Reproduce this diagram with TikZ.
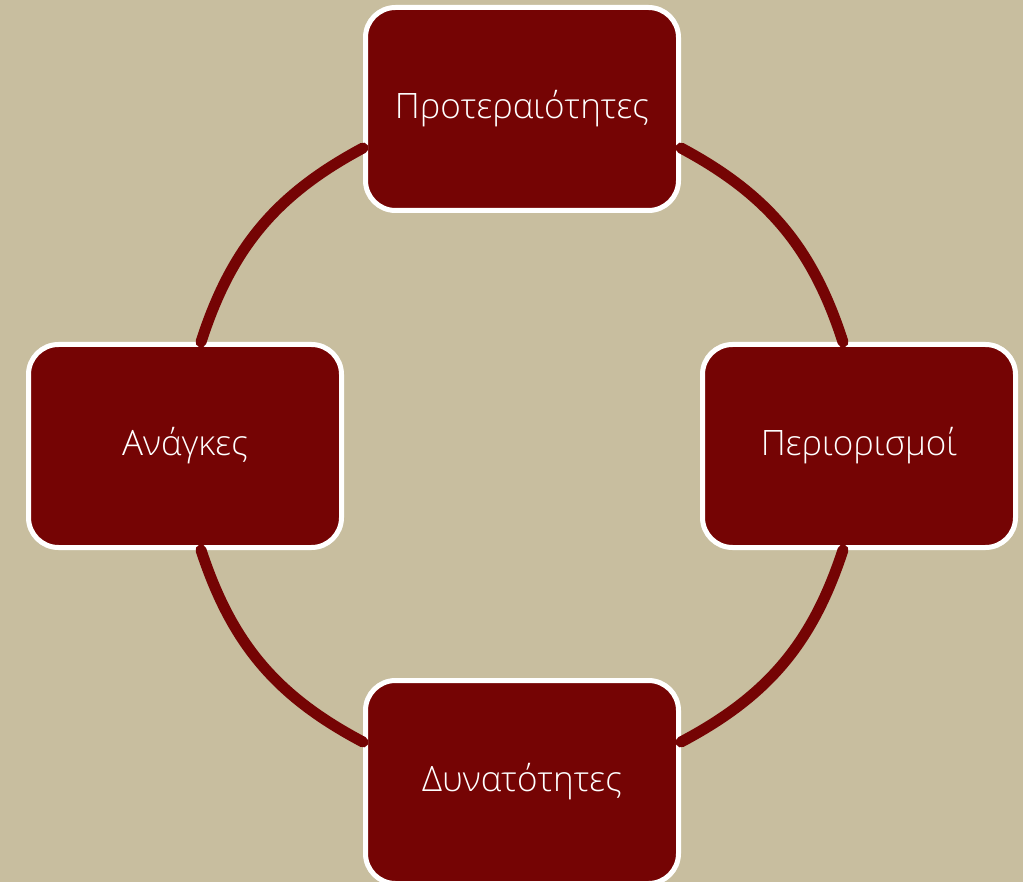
\documentclass[tikz,border=0pt]{standalone}
\usepackage{fontspec}
\setmainfont{Open Sans}[UprightFont=* Light]
\definecolor{bgbeige}{HTML}{C8BE9F}
\definecolor{boxred}{HTML}{750404}
\begin{document}
\begin{tikzpicture}[x=1pt,y=-1pt,
    box/.style={draw=white, line width=5pt, fill=boxred, rounded corners=30pt,
      minimum width=313pt, minimum height=203pt, text=white,
      font=\fontsize{35}{42}\selectfont},
    link/.style={draw=boxred, line width=11pt, line cap=round}]
		% Background
		\fill[bgbeige] (0,0) rectangle (1023,882);
		\useasboundingbox (0,0) rectangle (1023,882);

		% Boxes
		\node[box] (top) at (522,109) {Προτεραιότητες};
		\node[box] (left) at (185,446) {Ανάγκες};
		\node[box] (right) at (859,446) {Περιορισμοί};
		\node[box] (bottom) at (522,782) {Δυνατότητες};

		% Circle arcs
		\draw[link] ([yshift=-39pt]top.west) to[bend right=22] ([xshift=16pt]left.north);
		\draw[link] ([yshift=-39pt]top.east) to[bend left=22] ([xshift=-16pt]right.north);
		\draw[link] ([xshift=16pt]left.south) to[bend right=22] ([yshift=40pt]bottom.west);
		\draw[link] ([xshift=-16pt]right.south) to[bend left=22] ([yshift=40pt]bottom.east);
\end{tikzpicture}
\end{document}
